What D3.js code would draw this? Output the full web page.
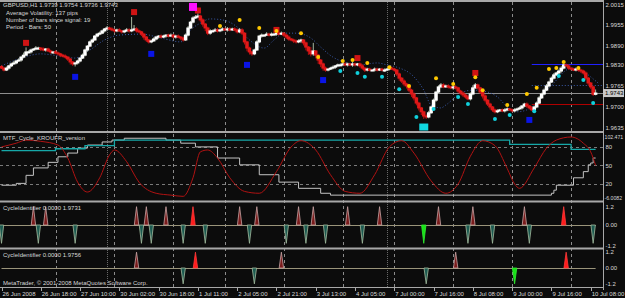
<!DOCTYPE html>
<html>
<head>
<meta charset="utf-8">
<script src="https://cdnjs.cloudflare.com/ajax/libs/d3/7.8.5/d3.min.js"></script>
<style>
  body { margin: 0; background: #0c0c0c; }
  svg { display: block; }
</style>
</head>
<body>
<script>
// ---- price data, GBPUSD H1 (bar index 0 = 26 Jun 02:00); open of a bar = previous close
const firstOpen = 1.9825;
const closes = [
  1.9820,1.9814,1.9820,1.9827,1.9833,1.9836,1.9842,1.9845,1.9854,1.9860,
  1.9870,1.9870,1.9876,1.9879,1.9882,1.9882,1.9879,1.9876,1.9879,1.9873,
  1.9870,1.9870,1.9867,1.9864,1.9860,1.9857,1.9854,1.9848,1.9839,1.9833,
  1.9836,1.9842,1.9851,1.9860,1.9876,1.9888,1.9901,1.9907,1.9919,1.9925,
  1.9928,1.9935,1.9941,1.9944,1.9941,1.9938,1.9935,1.9938,1.9935,1.9932,
  1.9935,1.9938,1.9935,1.9938,1.9941,1.9935,1.9932,1.9925,1.9916,1.9907,
  1.9901,1.9904,1.9910,1.9916,1.9919,1.9916,1.9919,1.9922,1.9919,1.9922,
  1.9916,1.9919,1.9916,1.9913,1.9907,1.9922,1.9944,1.9962,1.9975,1.9978,
  1.9981,1.9969,1.9956,1.9944,1.9928,1.9935,1.9935,1.9938,1.9935,1.9938,
  1.9941,1.9938,1.9941,1.9938,1.9941,1.9938,1.9932,1.9938,1.9928,1.9901,
  1.9882,1.9870,1.9864,1.9876,1.9901,1.9919,1.9922,1.9922,1.9925,1.9922,
  1.9925,1.9925,1.9928,1.9925,1.9928,1.9922,1.9916,1.9910,1.9907,1.9904,
  1.9901,1.9904,1.9907,1.9898,1.9885,1.9873,1.9864,1.9873,1.9860,1.9845,
  1.9833,1.9820,1.9814,1.9817,1.9820,1.9823,1.9827,1.9830,1.9830,1.9833,
  1.9830,1.9833,1.9830,1.9833,1.9830,1.9833,1.9827,1.9820,1.9814,1.9817,
  1.9814,1.9814,1.9817,1.9814,1.9817,1.9814,1.9814,1.9817,1.9820,1.9817,
  1.9814,1.9802,1.9789,1.9780,1.9771,1.9765,1.9752,1.9740,1.9728,1.9712,
  1.9697,1.9685,1.9672,1.9669,1.9682,1.9700,1.9721,1.9746,1.9762,1.9768,
  1.9762,1.9765,1.9762,1.9759,1.9762,1.9759,1.9749,1.9743,1.9737,1.9731,
  1.9725,1.9740,1.9759,1.9768,1.9759,1.9746,1.9734,1.9721,1.9709,1.9700,
  1.9691,1.9685,1.9688,1.9691,1.9688,1.9691,1.9694,1.9691,1.9688,1.9691,
  1.9694,1.9697,1.9703,1.9709,1.9703,1.9697,1.9691,1.9700,1.9712,1.9728,
  1.9740,1.9752,1.9765,1.9777,1.9789,1.9799,1.9805,1.9811,1.9820,1.9830,
  1.9827,1.9820,1.9817,1.9814,1.9817,1.9814,1.9811,1.9805,1.9789,1.9774,
  1.9762,1.9739,1.9743
];
// wick lengths in pips above / below the body
const upWick = [
  4,3,5,3,4,6,3,5,4,8, 14,5,4,3,6,4,3,5,3,4, 4,3,5,4,3,4,5,3,4,3, 3,4,3,5,4,3,4,5,3,4,
  5,4,3,6,4,5,3,4,5,3, 4,6,5,40,12,5,4,3,4,3, 3,4,5,4,3,5,4,3,4,5, 3,4,5,3,4,5,6,4,5,6,
  8,4,5,3,4,5,4,6,5,4, 5,4,6,5,4,5,4,6,5,3, 3,4,3,4,5,4,5,3,6,4, 5,4,3,4,5,3,4,5,3,4,
  4,5,4,3,4,3,12,25,3,4, 3,4,5,3,4,5,3,4,5,4, 5,4,3,6,4,3,4,5,3,4, 4,3,5,4,3,4,5,3,4,5,
  4,3,4,3,5,4,3,4,5,3, 4,3,4,5,6,4,5,4,5,6, 5,4,5,3,4,5,3,4,5,4, 6,5,8,6,4,3,4,5,3,4,
  3,4,5,3,4,5,4,3,4,5, 4,5,3,4,5,3,6,4,5,6, 4,5,6,4,5,6,4,5,6,5, 4,5,3,4,5,4,3,4,5,4,
  3,4,11
];
const downWick = [
  3,4,3,5,4,3,4,3,5,4, 3,4,5,3,4,5,6,4,5,3, 5,6,4,5,6,4,5,6,8,6, 8,5,4,3,4,5,3,4,3,4,
  4,3,5,4,3,4,5,4,3,5, 4,3,5,4,3,5,4,6,8,6, 5,4,3,4,5,4,3,5,4,3, 4,5,4,6,5,3,4,3,4,3,
  4,6,8,10,6,5,4,3,5,4, 4,3,5,4,3,4,5,4,6,8, 10,8,6,4,3,4,5,4,3,4, 4,3,5,4,3,5,6,5,4,6,
  5,4,6,8,10,12,8,6,10,12, 10,8,5,4,3,4,5,4,3,4, 4,5,4,6,5,4,6,5,6,4, 4,3,5,4,3,4,5,3,4,3,
  5,6,8,6,7,8,6,9,8,7, 8,10,9,6,4,3,4,5,3,4, 4,3,5,4,6,5,6,5,6,5, 4,5,4,3,5,6,8,7,6,8,
  6,5,4,3,4,5,4,3,4,5, 4,3,5,4,6,5,4,3,4,3, 3,4,3,4,3,4,3,4,5,4, 4,5,4,3,4,5,6,5,6,8,
  6,5,3
];

// signal markers on the price chart
const yellowBars = [89,97,105,112,122,129,139,143,149,158,166,177,184,193,196,206,214,218,223,226,229,235];
const yellowPrices = [1.9950,1.9969,1.9944,1.9935,1.9928,1.9854,1.9842,1.9845,1.9836,1.9823,1.9765,1.9789,1.9771,1.9792,1.9752,1.9706,1.9740,1.9759,1.9817,1.9820,1.9839,1.9820];
const cyanBars = [138,145,148,155,162,169,176,186,190,201,207,217,227,237,241];
const cyanPrices = [1.9811,1.9805,1.9793,1.9793,1.9755,1.9669,1.9694,1.9731,1.9709,1.9663,1.9675,1.9687,1.9796,1.9783,1.9712];
const redSqBars = [10,54,80,112,145,193];
const redSqPrices = [1.9898,1.9993,1.9998,1.9938,1.9851,1.9805];
const blueSqBars = [30,61,100,131,215];
const blueSqPrices = [1.9793,1.9864,1.9830,1.9783,1.9660];
const magentaBar = 78, magentaPrice = 2.0009;
const cyanSqBar = 172, cyanSqPrice = 1.9638;

// dotted moving average
const maBars = [0,8,16,24,30,36,42,48,57,65,73,77,81,85,90,96,101,107,111,115,120,126,130,135,141,146,153,157,161,168,172,175,179,181,187,192,198,202,206,210,214,217,221,225,229,232,236,240,243];
const maPrices = [1.9827,1.9851,1.9864,1.9857,1.9851,1.9876,1.9907,1.9922,1.9925,1.9913,1.9901,1.9938,1.9959,1.9972,1.9969,1.9947,1.9907,1.9882,1.9907,1.9928,1.9928,1.9913,1.9885,1.9854,1.9836,1.9830,1.9836,1.9830,1.9823,1.9793,1.9752,1.9706,1.9697,1.9706,1.9743,1.9752,1.9746,1.9731,1.9700,1.9685,1.9691,1.9706,1.9743,1.9774,1.9808,1.9820,1.9814,1.9793,1.9774];

const bidPrice = 1.9743;
const blueLevel = 1.9833, blueDotLevel = 1.9768, redLevel = 1.9709;
const levelStartBar = 216;

const priceTicks = ['2.0015','1.9955','1.9890','1.9830','1.9765','1.9700','1.9635'];

// MTF_Cycle_KROUFR_version
const cycBars = [0,6,10,16,23,27,31,35,40,44,46,51,56,63,69,74,78,81,84,88,93,99,105,112,118,122,128,134,140,146,152,158,163,168,175,181,186,191,196,201,206,209,211,217,222,226,232,237,240,242];
const cycVals = [80,86,91,89,83,62,23,7,30,67,75,56,23,5,2,0,30,72,75,62,30,8,5,40,80,90,75,35,8,5,35,80,90,70,25,5,20,65,90,82,45,20,13,46,78,91,96,86,72,50];
const tealBars = [0,22,34,46,207,232,242];
const tealVals = [74,77,82,91,84,76,76];
const greyBars = [0,6,10,13,19,23,27,31,35,41,45,50,67,73,79,88,97,105,113,121,130,134,224,225,226,233,237,239,240,241,242];
const greyVals = [18,21,34,46,55,64,70,78,83,88,91,94,91,86,80,62,51,35,23,13,5,2,5,10,18,30,40,51,54,62,62];
const cycLevels = [80,50,20];
const cycTicks = ['102.471','80','50','20','-6.0082'];

// CycleIdentifier spikes (bar indexes)
const ci1Up = [13,18,55,59,67,97,104,121,127,141,154,178,192,213];
const ci1UpRed = [78,229];
const ci1Down = [0,15,30,57,61,74,83,101,116,124,132,147,190,200,215,241];
const ci1DownGreen = [172];
const ci2Up = [55,114,185];
const ci2UpRed = [79,230];
const ci2Down = [74,103,173];
const ci2DownGreen = [209];

// time axis
const timeBars = [0,16,32,48,64,80,96,112,128,144,160,176,192,208,224,240];
const timeLabels = ['26 Jun 2008','26 Jun 18:00','27 Jun 10:00','30 Jun 02:00','30 Jun 18:00','1 Jul 11:00','2 Jul 05:00','2 Jul 21:00','3 Jul 13:00','4 Jul 05:00','7 Jul 00:00','7 Jul 16:00','8 Jul 08:00','9 Jul 00:00','9 Jul 16:00','10 Jul 08:00'];
const daySeps = [22,46,70,91,115,139,160,184,208,232];
const weekSeps = [43,157];

// ---- layout
const W = 625, H = 298;
const plotR = 603;
const font = "'Liberation Sans', Arial, sans-serif";
const txt = '#d8d8d8';

const svg = d3.select('body').append('svg').attr('width', W).attr('height', H)
  .style('font-family', font).style('font-size', '6px');
svg.append('rect').attr('width', W).attr('height', H).attr('fill', '#0c0c0c');

svg.append('defs').append('clipPath').attr('id', 'plot')
  .append('rect').attr('x', 0).attr('y', 0).attr('width', plotR).attr('height', 287);

const x = d3.scaleLinear().domain([0, 1]).range([1.5, 3.955]);
const y = d3.scaleLinear().domain([1.9635, 2.0015]).range([128, 5]);
const yc = d3.scaleLinear().domain([-7.5, 102.471]).range([201, 133]);
const y1 = d3.scaleLinear().domain([-1.2, 1.2]).range([247, 203]);
const y2 = d3.scaleLinear().domain([-1.2, 1.2]).range([287, 249]);

const g = svg.append('g').attr('clip-path', 'url(#plot)');

// period separators
g.selectAll('.day').data(daySeps).join('line')
  .attr('x1', d => Math.round(x(d)) + 0.5).attr('x2', d => Math.round(x(d)) + 0.5)
  .attr('y1', 2).attr('y2', 287)
  .attr('stroke', '#8c8c8c').attr('stroke-dasharray', '3,3');
g.selectAll('.week').data(weekSeps).join('line')
  .attr('x1', d => Math.round(x(d)) + 0.5).attr('x2', d => Math.round(x(d)) + 0.5)
  .attr('y1', 2).attr('y2', 287)
  .attr('stroke', '#6a6a6a').attr('stroke-dasharray', '1,1');

// ---- main price panel
g.append('line').attr('x1', 0).attr('x2', plotR)
  .attr('y1', Math.round(y(bidPrice)) + 0.5).attr('y2', Math.round(y(bidPrice)) + 0.5)
  .attr('stroke', '#8e8e8e');

g.append('path')
  .datum(maBars.map((b, i) => [b, maPrices[i]]))
  .attr('fill', 'none').attr('stroke', '#3a5aa8').attr('stroke-width', 1)
  .attr('stroke-dasharray', '1,2')
  .attr('d', d3.line().x(d => x(d[0])).y(d => y(d[1])).curve(d3.curveMonotoneX));

[[blueLevel, '#2020ff', null], [blueDotLevel, '#3a5aa8', '1,2'], [redLevel, '#b00000', null]].forEach(l => {
  g.append('line').attr('x1', x(levelStartBar)).attr('x2', plotR)
    .attr('y1', Math.round(y(l[0])) + 0.5).attr('y2', Math.round(y(l[0])) + 0.5)
    .attr('stroke', l[1]).attr('stroke-dasharray', l[2]);
});

const bars = closes.map((c, i) => {
  const o = i === 0 ? firstOpen : closes[i - 1];
  return {
    i, o, c,
    h: Math.max(o, c) + upWick[i] * 0.0001,
    l: Math.min(o, c) - downWick[i] * 0.0001
  };
});

g.selectAll('.wick').data(bars).join('line')
  .attr('x1', d => x(d.i)).attr('x2', d => x(d.i))
  .attr('y1', d => y(d.h)).attr('y2', d => y(d.l))
  .attr('stroke', d => d.c >= d.o ? '#a8b8a0' : '#c01010').attr('stroke-width', 1);

g.selectAll('.body').data(bars).join('rect')
  .attr('x', d => x(d.i) - 1.75).attr('width', 3.5)
  .attr('y', d => y(Math.max(d.o, d.c)) - 0.5)
  .attr('height', d => Math.max(2, y(Math.min(d.o, d.c)) - y(Math.max(d.o, d.c)) + 1))
  .attr('fill', d => d.c >= d.o ? '#ffffff' : '#e01818');

function squares(bs, ps, w, h, col) {
  g.selectAll(null).data(bs).join('rect')
    .attr('x', d => x(d) - w / 2).attr('y', (d, i) => y(ps[i]) - h / 2)
    .attr('width', w).attr('height', h).attr('fill', col);
}
squares(redSqBars, redSqPrices, 6, 6, '#d01414');
squares(blueSqBars, blueSqPrices, 6, 6, '#0a14e6');
squares([magentaBar], [magentaPrice], 8, 8, '#ff10ff');
squares([cyanSqBar], [cyanSqPrice], 9, 7, '#10d8e0');

g.selectAll('.yd').data(yellowBars).join('circle')
  .attr('cx', d => x(d)).attr('cy', (d, i) => y(yellowPrices[i])).attr('r', 2)
  .attr('fill', '#ffc800');
g.selectAll('.cd').data(cyanBars).join('circle')
  .attr('cx', d => x(d)).attr('cy', (d, i) => y(cyanPrices[i])).attr('r', 2)
  .attr('fill', '#10d0dc');

// ---- cycle panel
g.selectAll('.lvl').data(cycLevels).join('line')
  .attr('x1', 0).attr('x2', plotR)
  .attr('y1', d => Math.round(yc(d)) + 0.5).attr('y2', d => Math.round(yc(d)) + 0.5)
  .attr('stroke', '#7a7a7a').attr('stroke-dasharray', '3,3');

const cline = (bs, vs) => d3.line().x(d => x(d)).y((d, i) => yc(vs[i]));
g.append('path').datum(greyBars)
  .attr('fill', 'none').attr('stroke', '#c4c4c4')
  .attr('d', cline(greyBars, greyVals).curve(d3.curveStepAfter));
g.append('path').datum(tealBars)
  .attr('fill', 'none').attr('stroke', '#16a8a8').attr('stroke-width', 1.3)
  .attr('d', cline(tealBars, tealVals).curve(d3.curveStepAfter));
g.append('path').datum(cycBars)
  .attr('fill', 'none').attr('stroke', '#b01212')
  .attr('d', cline(cycBars, cycVals).curve(d3.curveMonotoneX));

// ---- CycleIdentifier panels
function ciPanel(ys, up, upRed, down, downGreen) {
  g.append('line').attr('x1', x(0)).attr('x2', x(closes.length - 1))
    .attr('y1', Math.round(ys(0)) + 0.5).attr('y2', Math.round(ys(0)) + 0.5)
    .attr('stroke', '#9a947a');
  const spike = (b, v) => [[x(b - 0.9), ys(0)], [x(b), ys(v)], [x(b + 0.9), ys(0)]]
    .map(p => p.join(',')).join(' ');
  const draw = (list, v, fill, stroke) => g.selectAll(null).data(list).join('polygon')
    .attr('points', d => spike(d, v)).attr('fill', fill).attr('stroke', stroke)
    .attr('stroke-width', 0.8);
  draw(up, 1, '#7a1c1c', '#c8a4a4');
  draw(down, -1, '#1c5a50', '#a4bca0');
  draw(upRed, 1, '#ff1c1c', '#ff3a3a');
  draw(downGreen, -1, '#18e018', '#30f030');
}
ciPanel(y1, ci1Up, ci1UpRed, ci1Down, ci1DownGreen);
ciPanel(y2, ci2Up, ci2UpRed, ci2Down, ci2DownGreen);

// ---- frames
[1, 132, 201.5, 248.5, 287.5].forEach(v => {
  svg.append('line').attr('x1', 0).attr('x2', plotR + 1).attr('y1', v).attr('y2', v)
    .attr('stroke', '#a8a8a8').attr('stroke-width', v === 287.5 ? 1 : 2);
});
svg.append('line').attr('x1', plotR + 0.5).attr('x2', plotR + 0.5).attr('y1', 0).attr('y2', 290)
  .attr('stroke', '#a8a8a8');

// ---- right axis labels
function rLabel(t, yy, top, bot) {
  svg.append('text').attr('x', t.length > 6 ? 604.5 : 605.5)
    .attr('y', Math.max(top, Math.min(bot, yy)))
    .attr('dy', '0.35em').attr('fill', txt)
    .style('font-size', t.length > 6 ? '5.2px' : null).text(t);
}
priceTicks.forEach(t => rLabel(t, y(+t), 5, 128));
cycTicks.forEach((t, i) => rLabel(t, i === 0 ? 137.5 : (i === cycTicks.length - 1 ? 198.5 : yc(+t)), 137.5, 198.5));
['1.2', '0.00', '-1.2'].forEach(t => rLabel(t, y1(+t), 207, 246));
['1.2', '0.00', '-1.2'].forEach(t => rLabel(t, y2(+t), 252, 284));

// current price box
const by = y(bidPrice);
svg.append('rect').attr('x', 603).attr('y', by - 4).attr('width', 21).attr('height', 8)
  .attr('fill', '#c8c8c8');
svg.append('text').attr('x', 605).attr('y', by).attr('dy', '0.35em')
  .attr('fill', '#000').text(bidPrice.toFixed(4));

// ---- time axis
svg.selectAll('.tk').data(timeBars).join('line')
  .attr('x1', d => Math.round(x(d)) + 0.5).attr('x2', d => Math.round(x(d)) + 0.5)
  .attr('y1', 287).attr('y2', 291).attr('stroke', '#a8a8a8');
svg.selectAll('.tl').data(timeBars).join('text')
  .attr('x', d => x(d) + 1).attr('y', 293.5).attr('dy', '0.35em')
  .attr('fill', txt).text((d, i) => timeLabels[i]);

// ---- captions
const cap = [
  ['GBPUSD,H1  1.9739 1.9754 1.9736 1.9743', 5],
  ['Average Volatility: 137 pips', 12.5],
  ['Number of bars since signal: 19', 19.5],
  ['Period - Bars: 50', 26.5],
  ['MTF_Cycle_KROUFR_version', 138],
  ['CycleIdentifier 0.0000 1.9731', 208],
  ['CycleIdentifier 0.0000 1.9756', 255],
  ['MetaTrader, \u00a9 2001-2008 MetaQuotes Software Corp.', 283]
];
cap.forEach(c => svg.append('text').attr('x', c[1] < 30 && c[1] > 6 ? 6 : 3).attr('y', c[1])
  .attr('dy', '0.35em').attr('fill', txt).text(c[0]));
</script>
</body>
</html>
